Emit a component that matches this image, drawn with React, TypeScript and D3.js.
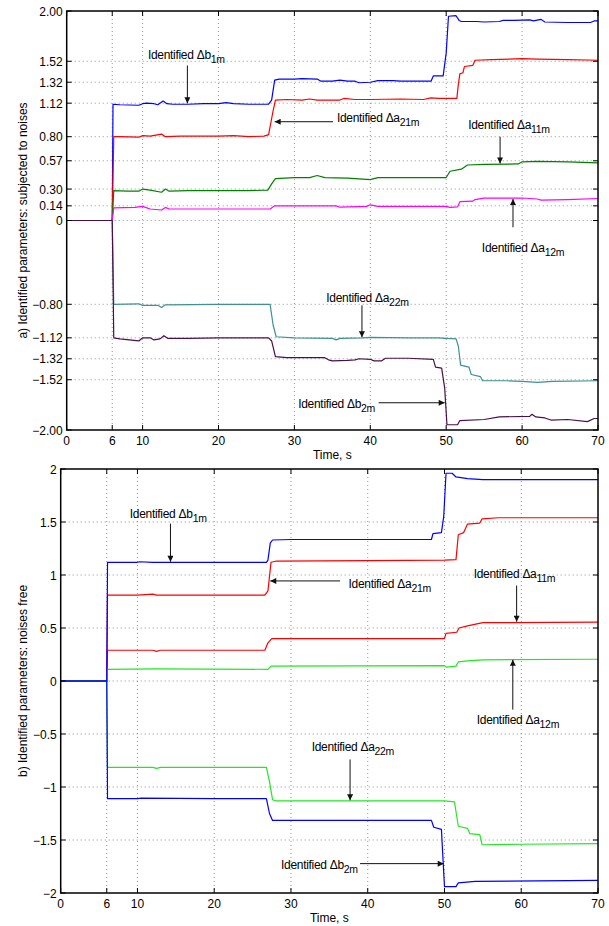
import * as d3 from "d3";
import React from "react";

type Pt = [number, number];

// tick values
const timeTicks = [0, 6, 10, 20, 30, 40, 50, 60, 70];
const noisyTicks = [2, 1.52, 1.32, 1.12, 0.8, 0.57, 0.3, 0.14, 0, -0.8, -1.12, -1.32, -1.52, -2];
const freeTicks = [2, 1.5, 1, 0.5, 0, -0.5, -1, -1.5, -2];

// a) subjected to noises  [time, value]
const noisyB1: Pt[] = [[0, 0], [6, 0], [6.1, 1.11], [7, 1.105], [9.5, 1.1], [10, 1.115], [10.5, 1.12], [11.5, 1.115], [12, 1.105], [12.7, 1.14], [13.2, 1.115], [14, 1.11], [16, 1.11], [18, 1.115], [20, 1.115], [21, 1.125], [22, 1.115], [24, 1.11], [26.6, 1.11], [27, 1.15], [27.4, 1.34], [28, 1.35], [30, 1.35], [31, 1.355], [33, 1.35], [33.5, 1.33], [35, 1.33], [36, 1.34], [37, 1.33], [38, 1.33], [38.5, 1.315], [40, 1.32], [41, 1.335], [43, 1.335], [44, 1.33], [48, 1.33], [48.3, 1.38], [49.6, 1.38], [50, 1.6], [50.3, 1.95], [51.3, 1.955], [51.7, 1.91], [52, 1.9], [54, 1.9], [55, 1.895], [57, 1.9], [57.5, 1.91], [59, 1.91], [61, 1.915], [61.5, 1.905], [62.5, 1.92], [63, 1.895], [66, 1.89], [69, 1.89], [69.5, 1.905], [70, 1.905]];
const noisyA21: Pt[] = [[0, 0], [6, 0], [6.2, 0.8], [7, 0.8], [9.5, 0.795], [10, 0.81], [11, 0.805], [12.5, 0.825], [13, 0.8], [15, 0.805], [20, 0.805], [22, 0.81], [24, 0.8], [26, 0.805], [26.6, 0.82], [27.2, 1.05], [27.5, 1.15], [29, 1.155], [31, 1.15], [32, 1.16], [33, 1.15], [36, 1.15], [36.5, 1.165], [38, 1.155], [40, 1.155], [44, 1.16], [47, 1.155], [48, 1.17], [49, 1.165], [51.4, 1.165], [51.6, 1.3], [51.8, 1.4], [52.2, 1.41], [52.4, 1.47], [53.5, 1.48], [53.8, 1.53], [56, 1.535], [60, 1.545], [62, 1.54], [66, 1.535], [70, 1.53]];
const noisyA11: Pt[] = [[0, 0], [6, 0], [6.2, 0.285], [8, 0.28], [9.5, 0.28], [10, 0.3], [11, 0.29], [12.5, 0.27], [13, 0.3], [13.5, 0.28], [16, 0.285], [20, 0.285], [24, 0.285], [26.5, 0.29], [27, 0.35], [27.5, 0.4], [30, 0.41], [32, 0.41], [33, 0.43], [34, 0.41], [37, 0.405], [38, 0.4], [40, 0.39], [41, 0.41], [45, 0.41], [50, 0.41], [50.5, 0.47], [52, 0.49], [52.8, 0.53], [55, 0.535], [59.5, 0.54], [60, 0.56], [62, 0.565], [66, 0.56], [70, 0.55]];
const noisyA12: Pt[] = [[0, 0], [6, 0], [6.2, 0.12], [9, 0.125], [10, 0.135], [11, 0.11], [12.5, 0.1], [13, 0.125], [13.5, 0.11], [20, 0.11], [26.8, 0.11], [27.4, 0.14], [30, 0.14], [35.5, 0.14], [36, 0.127], [39.5, 0.135], [40, 0.15], [41, 0.135], [50, 0.135], [50.5, 0.125], [51.5, 0.13], [51.8, 0.18], [53.5, 0.185], [53.8, 0.2], [55, 0.213], [60, 0.215], [62, 0.205], [62.5, 0.195], [66, 0.2], [70, 0.21]];
const noisyA22: Pt[] = [[0, 0], [6, 0], [6.2, -0.8], [9.5, -0.795], [10, -0.81], [12, -0.81], [12.5, -0.83], [13, -0.805], [20, -0.8], [26.8, -0.8], [27.2, -1.0], [27.6, -1.11], [30, -1.12], [35, -1.125], [35.5, -1.14], [36, -1.125], [39, -1.12], [40, -1.115], [45, -1.12], [49, -1.12], [50, -1.125], [51.3, -1.13], [51.6, -1.2], [51.9, -1.38], [53, -1.4], [53.3, -1.47], [54.5, -1.49], [54.8, -1.53], [58, -1.53], [60, -1.535], [62, -1.545], [64, -1.535], [70, -1.53]];
const noisyB2: Pt[] = [[0, 0], [6, 0], [6.2, -1.12], [7, -1.13], [9.5, -1.15], [10, -1.12], [11, -1.12], [11.5, -1.14], [12.3, -1.13], [12.8, -1.1], [13.3, -1.125], [16, -1.125], [20, -1.12], [26.6, -1.12], [27, -1.15], [27.5, -1.3], [29, -1.31], [34, -1.31], [34.5, -1.33], [35, -1.34], [37, -1.335], [38, -1.33], [38.5, -1.32], [40, -1.325], [40.5, -1.34], [41.5, -1.34], [42, -1.315], [45, -1.315], [48.3, -1.325], [48.6, -1.4], [49.4, -1.41], [49.8, -1.6], [50.1, -1.95], [51.5, -1.95], [51.8, -1.91], [55, -1.9], [57, -1.875], [61, -1.87], [61.3, -1.85], [61.8, -1.875], [63, -1.885], [63.8, -1.905], [66, -1.9], [68.6, -1.92], [69.5, -1.89], [70, -1.89]];

// b) noises free
const freeB1: Pt[] = [[0, 0], [6, 0], [6.1, 1.12], [10, 1.12], [10.3, 1.125], [12, 1.12], [20, 1.12], [26.8, 1.12], [27, 1.14], [27.3, 1.3], [27.6, 1.33], [30, 1.335], [40, 1.335], [48.3, 1.335], [48.5, 1.39], [49.6, 1.4], [49.9, 1.55], [50.2, 1.96], [51, 1.96], [51.5, 1.925], [53, 1.91], [55, 1.9], [70, 1.9]];
const freeA21: Pt[] = [[0, 0], [6, 0], [6.1, 0.81], [10, 0.81], [12, 0.82], [12.5, 0.81], [20, 0.81], [26.6, 0.81], [27, 0.85], [27.4, 1.12], [28, 1.13], [40, 1.135], [50, 1.14], [51.5, 1.145], [51.8, 1.38], [52.5, 1.4], [53, 1.48], [54.6, 1.49], [54.9, 1.53], [57, 1.54], [70, 1.54]];
const freeA11: Pt[] = [[0, 0], [6, 0], [6.1, 0.29], [12, 0.29], [12.5, 0.28], [13, 0.29], [26.6, 0.29], [27, 0.36], [27.5, 0.4], [50, 0.4], [50.2, 0.45], [51.6, 0.46], [51.9, 0.5], [53, 0.52], [55, 0.55], [70, 0.555]];
const freeA12: Pt[] = [[0, 0], [6, 0], [6.1, 0.11], [12.5, 0.115], [27, 0.11], [27.4, 0.14], [50, 0.145], [50.3, 0.13], [51.5, 0.14], [51.8, 0.18], [53, 0.19], [55, 0.2], [70, 0.205]];
const freeA22: Pt[] = [[0, 0], [6, 0], [6.1, -0.815], [12, -0.815], [12.5, -0.825], [13, -0.815], [26.8, -0.815], [27.2, -0.95], [27.6, -1.12], [28, -1.13], [50, -1.13], [51.3, -1.14], [51.8, -1.37], [53, -1.39], [53.3, -1.44], [54.6, -1.45], [54.9, -1.545], [60, -1.54], [70, -1.535]];
const freeB2: Pt[] = [[0, 0], [6, 0], [6.1, -1.11], [10, -1.11], [10.5, -1.105], [20, -1.11], [26.8, -1.11], [27.2, -1.25], [27.6, -1.315], [40, -1.315], [48.3, -1.315], [48.6, -1.38], [49.6, -1.4], [50, -1.94], [51.5, -1.94], [51.8, -1.905], [54, -1.89], [70, -1.88]];

// annotation labels: symbol, subscript, text anchor, arrow tail -> head (data units)
type Note = { sym: string; sub: string; at: Pt; from: Pt; to: Pt };
const noisyNotes: Note[] = [
  { sym: "b", sub: "1m", at: [10.7, 1.545], from: [15.9, 1.48], to: [15.9, 1.12] },
  { sym: "a", sub: "21m", at: [35.6, 0.94], from: [35.1, 0.943], to: [27.4, 0.943] },
  { sym: "a", sub: "11m", at: [52.9, 0.87], from: [57.1, 0.8], to: [57.1, 0.545] },
  { sym: "a", sub: "12m", at: [54.7, -0.3], from: [58.8, -0.065], to: [58.8, 0.205] },
  { sym: "a", sub: "22m", at: [34.2, -0.775], from: [38.9, -0.81], to: [38.9, -1.115] },
  { sym: "b", sub: "2m", at: [30.5, -1.79], from: [41.1, -1.74], to: [49.8, -1.74] },
];
const freeNotes: Note[] = [
  { sym: "b", sub: "1m", at: [9.0, 1.54], from: [14.3, 1.485], to: [14.3, 1.125] },
  { sym: "a", sub: "21m", at: [37.5, 0.88], from: [36.4, 0.944], to: [27.3, 0.944] },
  { sym: "a", sub: "11m", at: [53.8, 0.975], from: [59.4, 0.9], to: [59.4, 0.56] },
  { sym: "a", sub: "12m", at: [54.2, -0.405], from: [58.9, -0.27], to: [58.9, 0.2] },
  { sym: "a", sub: "22m", at: [32.7, -0.66], from: [37.7, -0.74], to: [37.7, -1.125] },
  { sym: "b", sub: "2m", at: [28.7, -1.77], from: [39.0, -1.723], to: [49.9, -1.723] },
];

const font = "'Liberation Sans', Arial, sans-serif";

type Series = { color: string; pts: Pt[] };

type PanelProps = {
  id: string;
  left: number; right: number; top: number; bottom: number;
  yTicks: number[];
  fmt: (v: number) => string;
  series: Series[];
  notes: Note[];
  label: string;
};

const minus = (s: string) => s.replace("-", "\u2212");

const Panel = ({ id, left, right, top, bottom, yTicks, fmt, series, notes, label }: PanelProps) => {
  const x = d3.scaleLinear().domain([0, 70]).range([left, right]);
  const y = d3.scaleLinear().domain([-2, 2]).range([bottom, top]);
  const line = d3.line<Pt>().x(d => x(d[0])).y(d => y(d[1]));

  return (
    <g fontFamily={font}>
      <defs>
        <clipPath id={"clip-" + id}>
          <rect x={left} y={top} width={right - left} height={bottom - top} />
        </clipPath>
        <marker id={"arr-" + id} viewBox="0 0 10 10" refX="10" refY="5" markerWidth="7" markerHeight="6"
          markerUnits="userSpaceOnUse" orient="auto">
          <path d="M0,0 L10,5 L0,10 z" fill="#111" />
        </marker>
      </defs>
      {/* grid */}
      {timeTicks.filter(t => t > 0 && t < 70).map(t => (
        <line key={"gx" + t} x1={x(t)} x2={x(t)} y1={top} y2={bottom} stroke="#777" strokeWidth={0.8} strokeDasharray="1,3" />
      ))}
      {yTicks.filter(v => v > -2 && v < 2).map(v => (
        <line key={"gy" + v} x1={left} x2={right} y1={y(v)} y2={y(v)} stroke="#777" strokeWidth={0.8} strokeDasharray="1,3" />
      ))}
      {/* series */}
      <g clipPath={`url(#clip-${id})`}>
        {series.map((s, i) => (
          <path key={i} d={line(s.pts) ?? ""} fill="none" stroke={s.color} strokeWidth={1.2} strokeLinejoin="round" />
        ))}
      </g>
      {/* ticks inward on all sides */}
      {timeTicks.map(t => (
        <g key={"tx" + t}>
          <line x1={x(t)} x2={x(t)} y1={bottom} y2={bottom - 5} stroke="#000" />
          <line x1={x(t)} x2={x(t)} y1={top} y2={top + 5} stroke="#000" />
          <text x={x(t)} y={bottom + 15} fontSize={12} textAnchor="middle">{t}</text>
        </g>
      ))}
      {yTicks.map(v => (
        <g key={"ty" + v}>
          <line x1={left} x2={left + 5} y1={y(v)} y2={y(v)} stroke="#000" />
          <line x1={right} x2={right - 5} y1={y(v)} y2={y(v)} stroke="#000" />
          <text x={left - 4} y={y(v) + 4.5} fontSize={12} textAnchor="end">{minus(fmt(v))}</text>
        </g>
      ))}
      <rect x={left} y={top} width={right - left} height={bottom - top} fill="none" stroke="#000" strokeWidth={1.5} />
      <text x={(left + right) / 2} y={bottom + 29} fontSize={12} textAnchor="middle">Time, s</text>
      <text transform={`translate(27,${(top + bottom) / 2}) rotate(-90)`} fontSize={12} textAnchor="middle">{label}</text>
      {/* annotations */}
      {notes.map((n, i) => (
        <g key={"n" + i}>
          <text x={x(n.at[0])} y={y(n.at[1])} fontSize={12} letterSpacing={-0.3}>
            Identified {"\u0394"}{n.sym}<tspan dy={4} fontSize={10.5}>{n.sub}</tspan>
          </text>
          <line x1={x(n.from[0])} y1={y(n.from[1])} x2={x(n.to[0])} y2={y(n.to[1])} stroke="#111" strokeWidth={1}
            markerEnd={`url(#arr-${id})`} />
        </g>
      ))}
    </g>
  );
};

const noisySeries: Series[] = [
  { color: "#0000ff", pts: noisyB1 },
  { color: "#ff0000", pts: noisyA21 },
  { color: "#008000", pts: noisyA11 },
  { color: "#ff00ff", pts: noisyA12 },
  { color: "#3f9090", pts: noisyA22 },
  { color: "#4a0f4a", pts: noisyB2 },
];
const freeSeries: Series[] = [
  { color: "#ff0000", pts: freeA21 },
  { color: "#ff0000", pts: freeA11 },
  { color: "#22e822", pts: freeA12 },
  { color: "#22e822", pts: freeA22 },
  { color: "#0000ff", pts: freeB1 },
  { color: "#0000ff", pts: freeB2 },
];

export default function App() {
  return (
    <svg width={609} height={926} style={{ position: "absolute", left: 0, top: 0, background: "#fff" }}>
      <rect width={609} height={926} fill="#fff" />
      <Panel id="a" left={66.7} right={598} top={11} bottom={430} yTicks={noisyTicks}
        fmt={v => (v === 0 ? "0" : d3.format(".2f")(v))} series={noisySeries} notes={noisyNotes}
        label="a) Identified parameters: subjected to noises" />
      <Panel id="b" left={60.7} right={598} top={469} bottom={893} yTicks={freeTicks}
        fmt={v => String(v)} series={freeSeries} notes={freeNotes}
        label="b) Identified parameters: noises free" />
    </svg>
  );
}
